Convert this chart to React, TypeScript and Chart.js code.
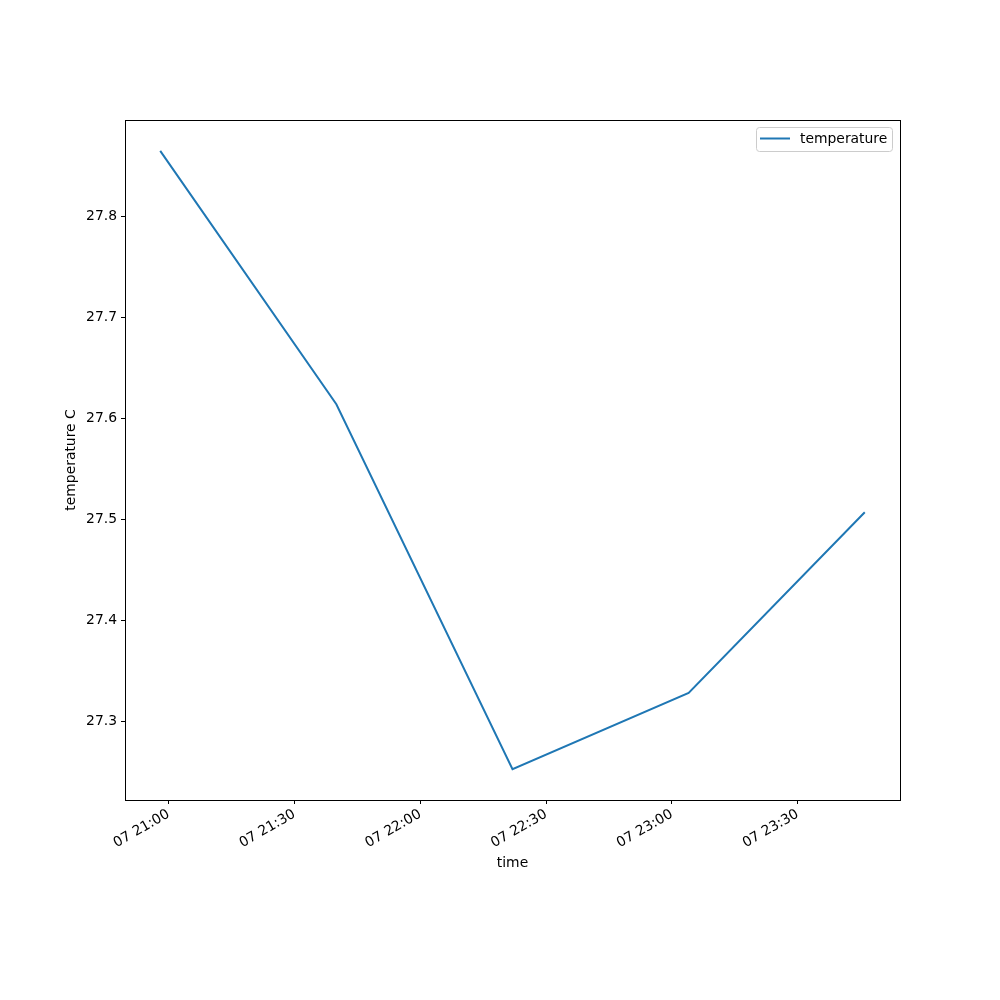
import React, { useEffect, useRef } from "react";
import { Chart, registerables } from "chart.js";

Chart.register(...registerables);

// minutes since 00:00 on day 07
const timeMinutes = [1258, 1300, 1342, 1384, 1426];
const temperature = [27.865, 27.614, 27.2525, 27.328, 27.507];
const xTickValues = [1260, 1290, 1320, 1350, 1380, 1410];
const yTickValues = [27.3, 27.4, 27.5, 27.6, 27.7, 27.8];
const seriesLabel = "temperature";
const xTitle = "time";
const yTitle = "temperature C";

const FONT = "'DejaVu Sans', sans-serif";
const FS = 13.9;

function fmtTime(m: number): string {
  const h = Math.floor(m / 60);
  const mm = Math.round(m - h * 60);
  return `07 ${String(h).padStart(2, "0")}:${String(mm).padStart(2, "0")}`;
}

const overlay = {
  id: "overlay",
  afterDraw(chart: any) {
    const { ctx, chartArea: a } = chart;
    ctx.save();
    ctx.strokeStyle = "#000";
    ctx.lineWidth = 1;
    ctx.strokeRect(Math.round(a.left) + 0.5, Math.round(a.top) + 0.5, Math.round(a.right - a.left), Math.round(a.bottom - a.top));
    // axis titles
    ctx.fillStyle = "#000";
    ctx.font = `${FS}px ${FONT}`;
    ctx.textAlign = "center";
    ctx.textBaseline = "middle";
    ctx.fillText(xTitle, (a.left + a.right) / 2, 863);
    ctx.save();
    ctx.translate(71, (a.top + a.bottom) / 2);
    ctx.rotate(-Math.PI / 2);
    ctx.fillText(yTitle, 0, 0);
    ctx.restore();
    // legend
    const bx = 756.5, by = 127.5, bw = 136, bh = 24;
    ctx.strokeStyle = "#cccccc";
    ctx.lineWidth = 1;
    ctx.beginPath();
    const r = 3;
    ctx.moveTo(bx + r, by);
    ctx.lineTo(bx + bw - r, by);
    ctx.quadraticCurveTo(bx + bw, by, bx + bw, by + r);
    ctx.lineTo(bx + bw, by + bh - r);
    ctx.quadraticCurveTo(bx + bw, by + bh, bx + bw - r, by + bh);
    ctx.lineTo(bx + r, by + bh);
    ctx.quadraticCurveTo(bx, by + bh, bx, by + bh - r);
    ctx.lineTo(bx, by + r);
    ctx.quadraticCurveTo(bx, by, bx + r, by);
    ctx.stroke();
    ctx.strokeStyle = "#1f77b4";
    ctx.lineWidth = 2;
    ctx.beginPath();
    ctx.moveTo(760, 138.5);
    ctx.lineTo(790, 138.5);
    ctx.stroke();
    ctx.textAlign = "left";
    ctx.fillText(seriesLabel, 800, 139);
    ctx.restore();
  },
};

export default function App() {
  const ref = useRef<HTMLCanvasElement>(null);
  useEffect(() => {
    const c = new Chart(ref.current!, {
      type: "line",
      data: {
        datasets: [
          {
            label: seriesLabel,
            data: timeMinutes.map((t, i) => ({ x: t, y: temperature[i] })),
            borderColor: "#1f77b4",
            borderWidth: 2,
            pointRadius: 0,
            fill: false,
            tension: 0,
          },
        ],
      },
      options: {
        animation: false,
        responsive: false,
        layout: { padding: { left: 0, top: 120, right: 100, bottom: 0 } },
        plugins: { legend: { display: false }, tooltip: { enabled: false } },
        scales: {
          x: {
            type: "linear",
            min: 1249.6,
            max: 1434.4,
            afterBuildTicks: (s: any) => {
              s.ticks = xTickValues.map((v) => ({ value: v }));
            },
            afterFit: (s: any) => {
              s.height = 200;
            },
            grid: { drawOnChartArea: false, drawTicks: true, tickLength: 4, color: "#000" },
            border: { display: false },
            ticks: {
              color: "#000",
              font: { family: FONT, size: FS },
              minRotation: 30,
              maxRotation: 30,
              autoSkip: false,
              padding: 2,
              callback: (v: any) => fmtTime(Number(v)),
            },
          },
          y: {
            type: "linear",
            min: 27.2219,
            max: 27.8956,
            afterBuildTicks: (s: any) => {
              s.ticks = yTickValues.map((v) => ({ value: v }));
            },
            afterFit: (s: any) => {
              s.width = 125;
            },
            grid: { drawOnChartArea: false, drawTicks: true, tickLength: 4, color: "#000" },
            border: { display: false },
            ticks: {
              color: "#000",
              font: { family: FONT, size: FS },
              padding: 4,
              callback: (v: any) => Number(v).toFixed(1),
            },
          },
        },
      },
      plugins: [overlay],
    });
    return () => c.destroy();
  }, []);
  return (
    <div style={{ position: "fixed", left: 0, top: 0, width: 1000, height: 1000, background: "#fff" }}>
      <canvas ref={ref} width={1000} height={1000} style={{ width: 1000, height: 1000 }} />
    </div>
  );
}
